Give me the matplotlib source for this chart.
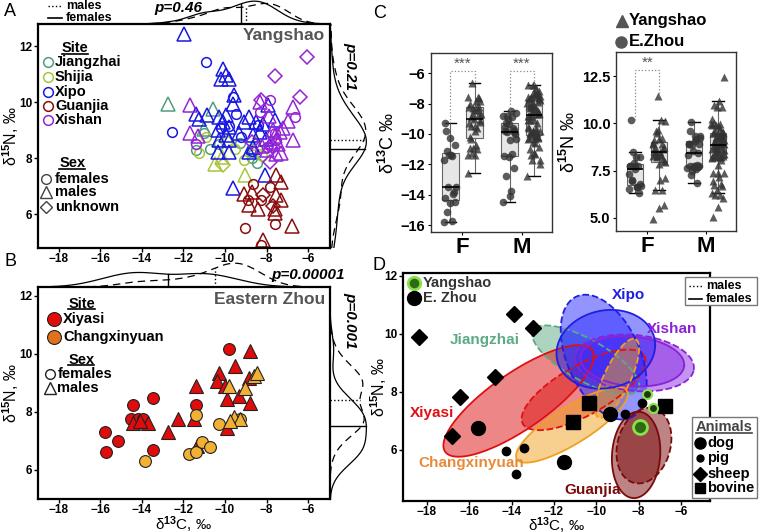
import numpy as np
import matplotlib
matplotlib.use('Agg')
import matplotlib.pyplot as plt
from matplotlib.lines import Line2D
from matplotlib.patches import Rectangle

plt.rcParams['font.family'] = ['Liberation Sans', 'DejaVu Sans']
plt.rcParams['font.weight'] = 'bold'
plt.rcParams['mathtext.fontset'] = 'custom'
plt.rcParams['mathtext.rm'] = 'Liberation Sans:bold'
plt.rcParams['mathtext.bf'] = 'Liberation Sans:bold'
plt.rcParams['mathtext.it'] = 'Liberation Sans:bold:italic'
plt.rcParams['mathtext.default'] = 'bf'

# ---------------- data: Yangshao (panel A), (d13C, d15N) ----------------
jiangzhai_f = [(-11.4, 8.3), (-10.7, 8.35), (-10.3, 8.5), (-8.7, 8.0), (-8.45, 7.85), (-9.3, 8.55), (-11.0, 8.9)]
jiangzhai_m = [(-12.75, 9.95), (-10.6, 9.75), (-11.0, 9.05), (-8.6, 8.3)]
jiangzhai_u = []
shijia_f = [(-11.25, 8.2), (-9.1, 7.95), (-9.5, 8.35), (-10.9, 8.75), (-8.2, 8.1)]
shijia_m = [(-10.5, 7.8), (-9.05, 7.4), (-10.15, 8.05), (-8.5, 8.55)]
shijia_u = [(-10.1, 7.75), (-9.9, 8.6)]
xipo_f = [(-10.93, 11.45), (-12.55, 8.95), (-9.6, 10.2), (-9.47, 9.6), (-9.23, 8.77), (-9.8, 9.15),
          (-10.2, 9.1), (-8.4, 9.2), (-8.7, 8.25)]
xipo_m = [(-11.98, 12.45), (-10.12, 11.2), (-9.96, 10.97), (-10.2, 10.85), (-9.83, 10.85), (-9.55, 10.25),
          (-9.63, 9.95), (-11.41, 9.6), (-10.85, 9.55), (-11.25, 9.42), (-10.28, 9.48), (-9.96, 9.54),
          (-10.09, 9.3), (-9.8, 9.12), (-10.36, 9.0), (-9.96, 8.83), (-10.28, 8.65), (-9.8, 8.65),
          (-10.36, 8.23), (-9.8, 8.23), (-8.83, 8.23), (-8.66, 8.4), (-9.07, 9.3), (-8.83, 9.48),
          (-8.5, 9.3), (-8.18, 9.24), (-7.94, 9.9), (-8.34, 8.95), (-8.02, 8.71), (-7.61, 9.36),
          (-8.1, 7.4), (-9.63, 6.93), (-9.31, 8.9), (-8.66, 8.83)]
xipo_u = []
guanjia_f = [(-8.67, 7.1), (-7.85, 6.98), (-8.9, 6.5), (-7.61, 5.67), (-9.02, 5.51), (-8.26, 4.92), (-8.25, 6.5)]
guanjia_m = [(-7.53, 7.39), (-7.29, 7.15), (-9.07, 6.74), (-7.53, 6.68), (-7.29, 6.5), (-8.83, 6.32),
             (-8.42, 6.2), (-7.61, 6.2), (-7.61, 6.05), (-6.8, 5.6), (-8.18, 5.07), (-8.7, 6.8)]
guanjia_u = [(-8.18, 6.68), (-7.7, 6.3)]
xishan_f = [(-6.64, 9.48), (-7.85, 10.1), (-11.4, 8.5), (-8.0, 8.4), (-7.55, 8.65), (-8.3, 9.65), (-7.6, 8.9)]
xishan_m = [(-11.7, 9.9), (-11.7, 8.9), (-11.3, 8.8), (-8.3, 10.0), (-7.9, 9.5), (-6.75, 9.85), (-6.75, 8.65),
            (-7.3, 8.2), (-7.6, 8.8), (-7.8, 8.6), (-7.45, 8.5), (-7.7, 9.0), (-7.35, 8.95), (-8.0, 8.3),
            (-7.55, 8.15), (-6.95, 9.35), (-8.2, 8.45), (-7.2, 9.1)]
xishan_u = [(-6.07, 11.62), (-7.6, 10.93), (-6.4, 10.2), (-8.26, 10.08), (-7.85, 7.88), (-7.69, 8.41), (-8.7, 8.6)]

ys_sites = ['Jiangzhai', 'Shijia', 'Xipo', 'Guanjia', 'Xishan']
ys_colors = ['#4f9d7c', '#a6c63a', '#1818e0', '#8a0d0d', '#9424d6']
ys_groups = [(jiangzhai_f, jiangzhai_m, jiangzhai_u), (shijia_f, shijia_m, shijia_u),
             (xipo_f, xipo_m, xipo_u), (guanjia_f, guanjia_m, guanjia_u), (xishan_f, xishan_m, xishan_u)]

# ---------------- data: Eastern Zhou (panel B) ----------------
xiyasi_f = [(-15.8, 7.31), (-15.75, 6.63), (-15.13, 7.0), (-14.45, 8.23), (-14.53, 7.75), (-14.2, 7.77),
            (-13.97, 7.77), (-13.46, 8.49), (-13.49, 6.69), (-11.39, 8.24), (-9.82, 10.15)]
xiyasi_m = [(-14.45, 7.63), (-13.73, 7.61), (-12.74, 7.29), (-12.25, 7.75), (-11.5, 7.77), (-11.42, 8.89),
            (-11.33, 6.83), (-9.9, 7.46), (-10.3, 9.35), (-10.38, 9.06), (-9.51, 9.58), (-9.9, 8.43),
            (-9.35, 8.55), (-8.79, 8.32), (-8.86, 9.18), (-8.79, 10.09), (-9.98, 8.9), (-14.1, 7.7)]
chang_f = [(-13.84, 6.3), (-11.39, 7.9), (-11.74, 6.55), (-11.42, 6.61), (-11.13, 6.97), (-10.7, 6.78),
           (-10.27, 7.58), (-9.3, 7.75)]
chang_m = [(-9.82, 8.89), (-9.59, 7.81), (-9.03, 8.83), (-8.63, 9.23), (-8.47, 9.35), (-9.27, 7.77), (-9.75, 7.7)]

ez_sites = ['Xiyasi', 'Changxinyuan']
ez_colors = ['#e00b0b', '#f2b134']
ez_legend_colors = ['#e00b0b', '#e2711d']

# ---------------- data: panel D animals ----------------
sheep_x = [-18.39, -16.82, -16.43, -14.77, -13.87, -12.99]
sheep_y = [9.88, 6.48, 7.84, 8.53, 10.7, 10.19]
dog_ez_x = [-15.6, -11.54, -9.34]
dog_ez_y = [6.75, 5.6, 7.24]
dog_ys_x = [-7.95]
dog_ys_y = [6.8]
pig_ez_x = [-14.25, -13.8, -13.4, -8.63, -7.84]
pig_ez_y = [5.98, 5.17, 6.08, 7.23, 7.63]
pig_ys_x = [-7.61, -7.34]
pig_ys_y = [7.92, 7.44]
bovine_x = [-11.1, -10.33, -6.77]
bovine_y = [6.98, 7.61, 7.53]

# ellipses in D: centre, conjugate half-axes (data units)
ell_site = ['Jiangzhai', 'Xiyasi', 'Xiyasi', 'Changxinyuan', 'Xishan', 'Xishan',
            'Xipo', 'Xipo', 'Changxinyuan', 'Guanjia', 'Guanjia']
ell_sex = ['M', 'F', 'M', 'F', 'M', 'F', 'M', 'F', 'M', 'F', 'M']
ell_cx = [-10.5, -13.67, -10.6, -11.15, -8.2, -8.3, -9.65, -9.55, -9.02, -8.12, -7.75]
ell_cy = [9.1, 7.69, 8.07, 6.86, 9.0, 9.05, 9.2, 9.47, 8.47, 5.83, 6.15]
ell_ax = [2.5, 3.47, 2.87, 2.6, 2.8, 2.45, 1.25, 2.33, 0.87, 0.1, 0.35]
ell_ay = [-1.0, 1.75, 1.17, 1.18, -0.25, -0.15, -2.1, 0.15, 1.35, 1.49, 1.3]
ell_bx = [0.4, 0.76, 0.58, 0.46, 0.25, 0.1, 1.6, 0.0, 0.57, 1.14, 1.25]
ell_by = [0.65, -0.80, -0.75, -0.54, 0.95, 0.85, 0.47, 1.35, -0.19, 0.0, -0.1]
site_fill = {'Jiangzhai': '#5daa85', 'Xiyasi': '#dd1111', 'Changxinyuan': '#f0a020',
             'Xishan': '#8a2be2', 'Xipo': '#2b2bff', 'Guanjia': '#7a0a0a'}
site_edge = {'Jiangzhai': '#5daa85', 'Xiyasi': '#e01010', 'Changxinyuan': '#f0a020',
             'Xishan': '#8a22d8', 'Xipo': '#1f1fe0', 'Guanjia': '#7a0a0a'}
d_labels = ['Xipo', 'Xishan', 'Jiangzhai', 'Xiyasi', 'Changxinyuan', 'Guanjia']
d_label_x = [-8.47, -6.4, -15.26, -17.78, -15.89, -10.19]
d_label_y = [11.34, 10.17, 9.79, 7.27, 5.56, 4.62]
d_label_c = ['#1f1fe0', '#8a22d8', '#5daa85', '#e01010', '#e98a3a', '#7a0a0a']

# ---------------------------------------------------------------
W, H = 761, 532
fig = plt.figure(figsize=(W / 100, H / 100), dpi=100)


def rect(l, t, r, b):
    return [l / W, 1 - b / H, (r - l) / W, (b - t) / H]


def fpt(x, y):
    return x / W, 1 - y / H


def kde(vals, grid):
    v = np.asarray(vals)
    bw = 1.06 * v.std(ddof=1) * len(v) ** (-0.2)
    z = (grid[:, None] - v[None, :]) / bw
    return np.exp(-0.5 * z ** 2).sum(1) / (len(v) * bw * np.sqrt(2 * np.pi))


underlined = []


def style_scatter_axes(ax, xlim, ylim):
    ax.set_xlim(*xlim)
    ax.set_ylim(*ylim)
    ax.set_xticks(range(-18, -5, 2))
    ax.set_yticks([6, 8, 10, 12])
    for s in ax.spines.values():
        s.set_linewidth(1.6)
    ax.tick_params(length=3, width=1, labelsize=8.5, pad=1)
    ax.tick_params(axis='x', pad=0.5)
    ax.set_ylabel(r'δ$^{15}$N, ‰', fontsize=11.5)


def marginals(ax_top, ax_right, f_pts, m_pts, xlim, ylim, p_top, p_right, p_top_xy, p_right_xy):
    f = np.array(f_pts)
    m = np.array(m_pts)
    gx = np.linspace(xlim[0], xlim[1], 300)
    gy = np.linspace(ylim[0], ylim[1], 300)
    dfx, dmx = kde(f[:, 0], gx), kde(m[:, 0], gx)
    dfy, dmy = kde(f[:, 1], gy), kde(m[:, 1], gy)
    ax_top.plot(gx, dfx, color='black', lw=0.9)
    ax_top.plot(gx, dmx, color='black', lw=0.9, ls=(0, (6, 4)))
    mf, mm = f[:, 0].mean(), m[:, 0].mean()
    ax_top.plot([mf, mf], [0, kde(f[:, 0], np.array([mf]))[0]], color='black', lw=1)
    ax_top.plot([mm, mm], [0, kde(m[:, 0], np.array([mm]))[0]], color='black', lw=1, ls=':')
    ax_top.set_xlim(*xlim)
    ax_top.set_ylim(0, max(dfx.max(), dmx.max()) * 1.05)
    ax_top.axis('off')
    ax_right.plot(dfy, gy, color='black', lw=0.9)
    ax_right.plot(dmy, gy, color='black', lw=0.9, ls=(0, (6, 4)))
    mf, mm = f[:, 1].mean(), m[:, 1].mean()
    ax_right.plot([0, kde(f[:, 1], np.array([mf]))[0]], [mf, mf], color='black', lw=1)
    ax_right.plot([0, kde(m[:, 1], np.array([mm]))[0]], [mm, mm], color='black', lw=1, ls=':')
    ax_right.set_ylim(*ylim)
    ax_right.set_xlim(0, max(dfy.max(), dmy.max()) * 1.1)
    ax_right.axis('off')
    fig.text(*fpt(*p_top_xy), p_top, fontsize=11, style='italic', ha='center', va='center')
    fig.text(*fpt(*p_right_xy), p_right, fontsize=11, style='italic', ha='center', va='center', rotation=-90)


# ---------------- Panel A ----------------
XL = (-19.0, -4.95)
axA = fig.add_axes(rect(38, 24, 330, 248))
style_scatter_axes(axA, XL, (4.8, 12.8))
axA.yaxis.set_label_coords(-0.057, 0.5)
markers = ['o', '^', 'D']
msizes = [7, 9.5, 7]
for color, groups in zip(ys_colors, ys_groups):
    for pts, mk, ms in zip(groups, markers, msizes):
        if not pts:
            continue
        arr = np.array(pts)
        axA.plot(arr[:, 0], arr[:, 1], ls='', marker=mk, ms=ms, mfc='none', mec=color, mew=1.1)
axA.text(0.983, 0.982, 'Yangshao', transform=axA.transAxes, ha='right', va='top', fontsize=12.5, color='#555555')
t = axA.text(0.081, 0.891, 'Site', transform=axA.transAxes, va='center', fontsize=10.5)
underlined.append(t)
for i, (name, col) in enumerate(zip(ys_sites, ys_colors)):
    y = [0.832, 0.763, 0.698, 0.634, 0.571][i]
    axA.plot(0.035, y, 'o', ms=7, mfc='none', mec=col, mew=1.1, transform=axA.transAxes, clip_on=False)
    axA.text(0.058, y, name, transform=axA.transAxes, va='center', fontsize=10.5)
t = axA.text(0.073, 0.378, 'Sex', transform=axA.transAxes, va='center', fontsize=10.5)
underlined.append(t)
for y, mk, ms, lab in zip([0.308, 0.249, 0.184], markers, [7, 8.5, 6.5], ['females', 'males', 'unknown']):
    axA.plot(0.027, y, mk, ms=ms, mfc='none', mec='#444444', mew=1, transform=axA.transAxes, clip_on=False)
    axA.text(0.058, y, lab, transform=axA.transAxes, va='center', fontsize=10.5)

ys_f = [p for g in ys_groups for p in g[0]]
ys_m = [p for g in ys_groups for p in g[1]]
marginals(fig.add_axes(rect(38, 0, 330, 24)), fig.add_axes(rect(330, 24, 370, 248)),
          ys_f, ys_m, XL, (4.8, 12.8), 'p=0.46', 'p=0.21', (178, 8), (350, 66))

# top-left males/females key
fig.add_artist(Line2D([48 / W, 62 / W], [1 - 6 / H, 1 - 6 / H], color='black', lw=1, ls=':'))
fig.add_artist(Line2D([48 / W, 62 / W], [1 - 18 / H, 1 - 18 / H], color='black', lw=1.2))
fig.text(*fpt(66, 6), 'males', fontsize=9, va='center')
fig.text(*fpt(66, 18), 'females', fontsize=9, va='center')

# ---------------- Panel B ----------------
axB = fig.add_axes(rect(38, 287, 330, 499))
style_scatter_axes(axB, XL, (5.0, 12.3))
axB.yaxis.set_label_coords(-0.057, 0.5)
axB.set_xlabel(r'δ$^{13}$C, ‰', fontsize=11)
axB.xaxis.set_label_coords(0.5, -0.072)
for (fp, mp), col in zip([(xiyasi_f, xiyasi_m), (chang_f, chang_m)], ez_colors):
    a = np.array(fp)
    axB.plot(a[:, 0], a[:, 1], 'o', ms=8.5, mfc=col, mec='#222222', mew=0.8)
    a = np.array(mp)
    axB.plot(a[:, 0], a[:, 1], '^', ms=10, mfc=col, mec='#222222', mew=0.8)
axB.text(0.983, 0.976, 'Eastern Zhou', transform=axB.transAxes, ha='right', va='top', fontsize=12.5, color='#555555')
t = axB.text(0.104, 0.92, 'Site', transform=axB.transAxes, va='center', fontsize=10.5)
underlined.append(t)
for y, name, col in zip([0.848, 0.766], ez_sites, ez_legend_colors):
    axB.plot(0.055, y, 'o', ms=10, mfc=col, mec='#222222', mew=0.8, transform=axB.transAxes, clip_on=False)
    axB.text(0.086, y, name, transform=axB.transAxes, va='center', fontsize=10.5)
t = axB.text(0.104, 0.656, 'Sex', transform=axB.transAxes, va='center', fontsize=10.5)
underlined.append(t)
for y, mk, ms, lab in zip([0.588, 0.522], ['o', '^'], [7, 8.5], ['females', 'males']):
    axB.plot(0.041, y, mk, ms=ms, mfc='none', mec='#222222', mew=1, transform=axB.transAxes, clip_on=False)
    axB.text(0.066, y, lab, transform=axB.transAxes, va='center', fontsize=10.5)

marginals(fig.add_axes(rect(38, 262, 330, 287)), fig.add_axes(rect(330, 287, 370, 499)),
          xiyasi_f + chang_f, xiyasi_m + chang_m, XL, (5.0, 12.3), 'p=0.00001', 'p=0.001', (308, 275), (350, 320))

# ---------------- Panel C ----------------
ez_f = np.array(xiyasi_f + chang_f)
ez_m = np.array(xiyasi_m + chang_m)
ysf = np.array(ys_f)
ysm = np.array(ys_m)


def box_panel(ax, col, ylim, yticks, ylabel, brackets):
    dodge, bw = 0.204, 0.28
    groups = [ez_f[:, col], ysf[:, col], ez_m[:, col], ysm[:, col]]
    pos = [1 - dodge, 1 + dodge, 2 - dodge, 2 + dodge]
    ax.boxplot(groups, positions=pos, widths=bw, patch_artist=True, showfliers=False,
               boxprops=dict(facecolor='#e6e6e6', edgecolor='#666666', lw=0.8),
               medianprops=dict(color='black', lw=1.2),
               whiskerprops=dict(color='#666666', lw=0.8),
               capprops=dict(color='black', lw=1), capwidths=bw * 0.7)
    for g, p, mk in zip(groups, pos, ['o', '^', 'o', '^']):
        n = len(g)
        jit = (((np.arange(n) * 0.618034) % 1) - 0.5) * bw * 0.8
        ax.plot(p + jit, g, ls='', marker=mk, ms=5.5, color='#333333', alpha=0.8, mec='none')
    for i in brackets:
        x1, x2 = pos[2 * i], pos[2 * i + 1]
        top = ylim[1] - (ylim[1] - ylim[0]) * 0.1
        ax.plot([x1, x1, x2, x2], [groups[2 * i].max(), top, top, groups[2 * i + 1].max()],
                ls=':', color='#888888', lw=0.9)
        stars = '***' if col == 0 else '**'
        ax.text((x1 + x2) / 2, top, stars, ha='center', va='bottom', fontsize=11, color='#555555',
                fontweight='normal')
    ax.set_xlim(0.47, 2.51)
    ax.set_ylim(*ylim)
    ax.set_xticks([1, 2])
    ax.set_xticklabels(['F', 'M'], fontsize=16)
    ax.set_yticks(yticks)
    ax.tick_params(axis='y', labelsize=10.5, length=2.5, pad=1.5)
    ax.tick_params(axis='x', length=2.5, pad=1)
    for s in ax.spines.values():
        s.set_color('#333333')
        s.set_linewidth(1)
    ax.set_ylabel(ylabel, fontsize=13, labelpad=2)


axC1 = fig.add_axes(rect(431, 53, 552, 232))
box_panel(axC1, 0, (-16.44, -4.68), [-6, -8, -10, -12, -14, -16], r'δ$^{13}$C ‰', [0, 1])
axC2 = fig.add_axes(rect(616, 52, 736, 231))
box_panel(axC2, 1, (4.31, 13.77), [5.0, 7.5, 10.0, 12.5], r'δ$^{15}$N ‰', [0])
axC2.set_yticklabels(['5.0', '7.5', '10.0', '12.5'])
fig.add_artist(Line2D([622 / W], [1 - 21 / H], marker='^', ms=9, color='#555555', ls=''))
fig.add_artist(Line2D([621 / W], [1 - 42 / H], marker='o', ms=8, color='#555555', ls=''))
fig.text(*fpt(629, 21), 'Yangshao', fontsize=12, va='center')
fig.text(*fpt(629, 42), 'E.Zhou', fontsize=12, va='center')

# ---------------- Panel D ----------------
axD = fig.add_axes(rect(403, 273, 710, 501))
style_scatter_axes(axD, (-19.13, -4.63), (4.24, 12.1))
axD.set_xlabel(r'δ$^{13}$C, ‰', fontsize=11)
axD.xaxis.set_label_coords(0.5, -0.064)
axD.yaxis.set_label_coords(-0.045, 0.5)
tt = np.linspace(0, 2 * np.pi, 200)
for s, sx, cx, cy, axx, ayy, bx, by in zip(ell_site, ell_sex, ell_cx, ell_cy, ell_ax, ell_ay, ell_bx, ell_by):
    ex = cx + axx * np.cos(tt) + bx * np.sin(tt)
    ey = cy + ayy * np.cos(tt) + by * np.sin(tt)
    axD.fill(ex, ey, color=site_fill[s], alpha=0.5, lw=0)
    axD.plot(ex, ey, color=site_edge[s], lw=1.3, ls='--' if sx == 'M' else '-')
for name, x, y, c in zip(d_labels, d_label_x, d_label_y, d_label_c):
    axD.text(x, y, name, color=c, fontsize=11, ha='center', va='center')
axD.plot(sheep_x, sheep_y, 'D', ms=8, color='black', ls='')
axD.plot(dog_ez_x, dog_ez_y, 'o', ms=10, color='black', ls='')
axD.plot(pig_ez_x, pig_ez_y, 'o', ms=6, color='black', ls='')
axD.plot(bovine_x, bovine_y, 's', ms=9.5, color='black', ls='')
axD.plot(dog_ys_x, dog_ys_y, 'o', ms=10, mfc='#2f6b12', mec='#8be04e', mew=2, ls='')
axD.plot(pig_ys_x, pig_ys_y, 'o', ms=6.5, mfc='#1e3a10', mec='#8be04e', mew=1.5, ls='')
axD.plot(0.037, 0.957, 'o', ms=9, mfc='#2f6b12', mec='#8be04e', mew=2, transform=axD.transAxes)
axD.plot(0.037, 0.889, 'o', ms=10, color='black', transform=axD.transAxes)
axD.text(0.064, 0.957, 'Yangshao', transform=axD.transAxes, va='center', fontsize=10.5, color='#333333')
axD.text(0.064, 0.889, 'E. Zhou', transform=axD.transAxes, va='center', fontsize=10.5, color='#333333')

# males/females key box
fig.add_artist(Rectangle(fpt(685, 305), 72 / W, 28 / H, transform=fig.transFigure,
                         facecolor='white', edgecolor='#777777', lw=1))
fig.add_artist(Line2D([689 / W, 702 / W], [1 - 286 / H] * 2, color='black', lw=1, ls=':'))
fig.add_artist(Line2D([689 / W, 702 / W], [1 - 299 / H] * 2, color='black', lw=1.2))
fig.text(*fpt(706, 286), 'males', fontsize=9, va='center')
fig.text(*fpt(706, 299), 'females', fontsize=9, va='center')

# Animals key box
fig.add_artist(Rectangle(fpt(692, 498), 65 / W, 81 / H, transform=fig.transFigure,
                         facecolor='white', edgecolor='#777777', lw=1))
t = fig.text(*fpt(724, 427), 'Animals', fontsize=10.5, ha='center', va='center', color='#444444')
underlined.append(t)
for y, mk, ms, lab in zip([443, 458, 474, 488], ['o', 'o', 'D', 's'], [8, 5, 7, 7.5],
                          ['dog', 'pig', 'sheep', 'bovine']):
    fig.add_artist(Line2D([700 / W], [1 - y / H], marker=mk, ms=ms, color='black', ls=''))
    fig.text(*fpt(707, y), lab, fontsize=10.5, va='center')

# panel letters
for lab, x, y in [('A', 4, 12), ('B', 4, 262), ('C', 373, 14), ('D', 372, 266)]:
    fig.text(*fpt(x, y), lab, fontsize=13, fontweight='normal', va='center')

# underline legend titles
fig.canvas.draw()
inv = fig.transFigure.inverted()
for t in underlined:
    bb = t.get_window_extent()
    (x0, y0), (x1, _) = inv.transform([(bb.x0, bb.y0 + 1.5), (bb.x1, bb.y0)])
    fig.add_artist(Line2D([x0, x1], [y0, y0], color=t.get_color(), lw=1.2))

fig.savefig('out.png', dpi=100)
